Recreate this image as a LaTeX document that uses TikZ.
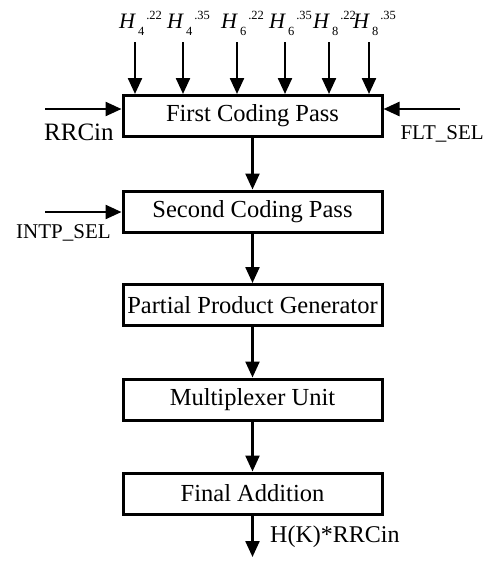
\documentclass[tikz,border=0pt]{standalone}
\usepackage{fontspec}
\setmainfont{Liberation Serif}
\usetikzlibrary{arrows.meta}
\newcommand{\hlab}[2]{\textit{H}\kern2pt\raisebox{-7pt}{\fontsize{12.5}{13}\selectfont #1}\kern2pt\raisebox{9pt}{\fontsize{12.5}{13}\selectfont #2}}
\begin{document}
\begin{tikzpicture}[x=1pt,y=-1pt,
  blk/.style={draw, line width=3pt, minimum width=259pt, minimum height=41pt, inner sep=0pt, font=\fontsize{24.5}{26}\selectfont},
  arr/.style={line width=2.4pt, -{Triangle[length=16pt,width=14pt]}},
  lbl/.style={inner sep=0pt, font=\fontsize{25}{26}\selectfont},
  slbl/.style={inner sep=0pt, font=\fontsize{21}{22}\selectfont},
  hl/.style={inner sep=0pt, font=\fontsize{22}{22}\selectfont}]
\useasboundingbox (0,0) rectangle (488,563);
\node[blk] (fcp) at (252.5,116) {First Coding Pass};
\node[blk] (scp) at (252.5,211.5) {Second Coding Pass};
\node[blk] (ppg) at (252.5,305) {Partial Product Generator};
\node[blk] (mux) at (252.5,399.5) {Multiplexer Unit};
\node[blk] (fa) at (252.5,493.5) {Final Addition};
% vertical flow
\draw[arr] (fcp) -- (scp);
\draw[arr] (scp) -- (ppg);
\draw[arr] (ppg) -- (mux);
\draw[arr] (mux) -- (fa);
\coordinate (out) at (252.5,557);
\draw[arr] (fa) -- (out);
\node[lbl, anchor=west, font=\fontsize{24}{26}\selectfont] (outl) at (270,537) {H(K)*RRCin};
% side inputs
\coordinate (rrc) at (45,109);
\draw[arr] (rrc) -- (fcp.west |- rrc);
\node[lbl, anchor=west] (rrcl) at (44,132) {RRCin};
\coordinate (flt) at (460,109);
\draw[arr] (flt) -- (fcp.east |- flt);
\node[slbl, anchor=east] (fltl) at (484,134) {FLT\_SEL};
\coordinate (intp) at (45,212);
\draw[arr] (intp) -- (scp.west |- intp);
\node[slbl, anchor=west] (intpl) at (16,233) {INTP\_SEL};
% top inputs
\foreach \x/\s/\p [count=\i] in {135/4/.22,183/4/.35,237/6/.22,285/6/.35,329/8/.22,369/8/.35}{
  \coordinate (t\i) at (\x,42);
  \draw[arr] (t\i) -- (fcp.north -| t\i);
  \node[hl, anchor=base west] (h\i) at (\x-16,28) {\hlab{\s}{\p}};
}
\end{tikzpicture}
\end{document}
